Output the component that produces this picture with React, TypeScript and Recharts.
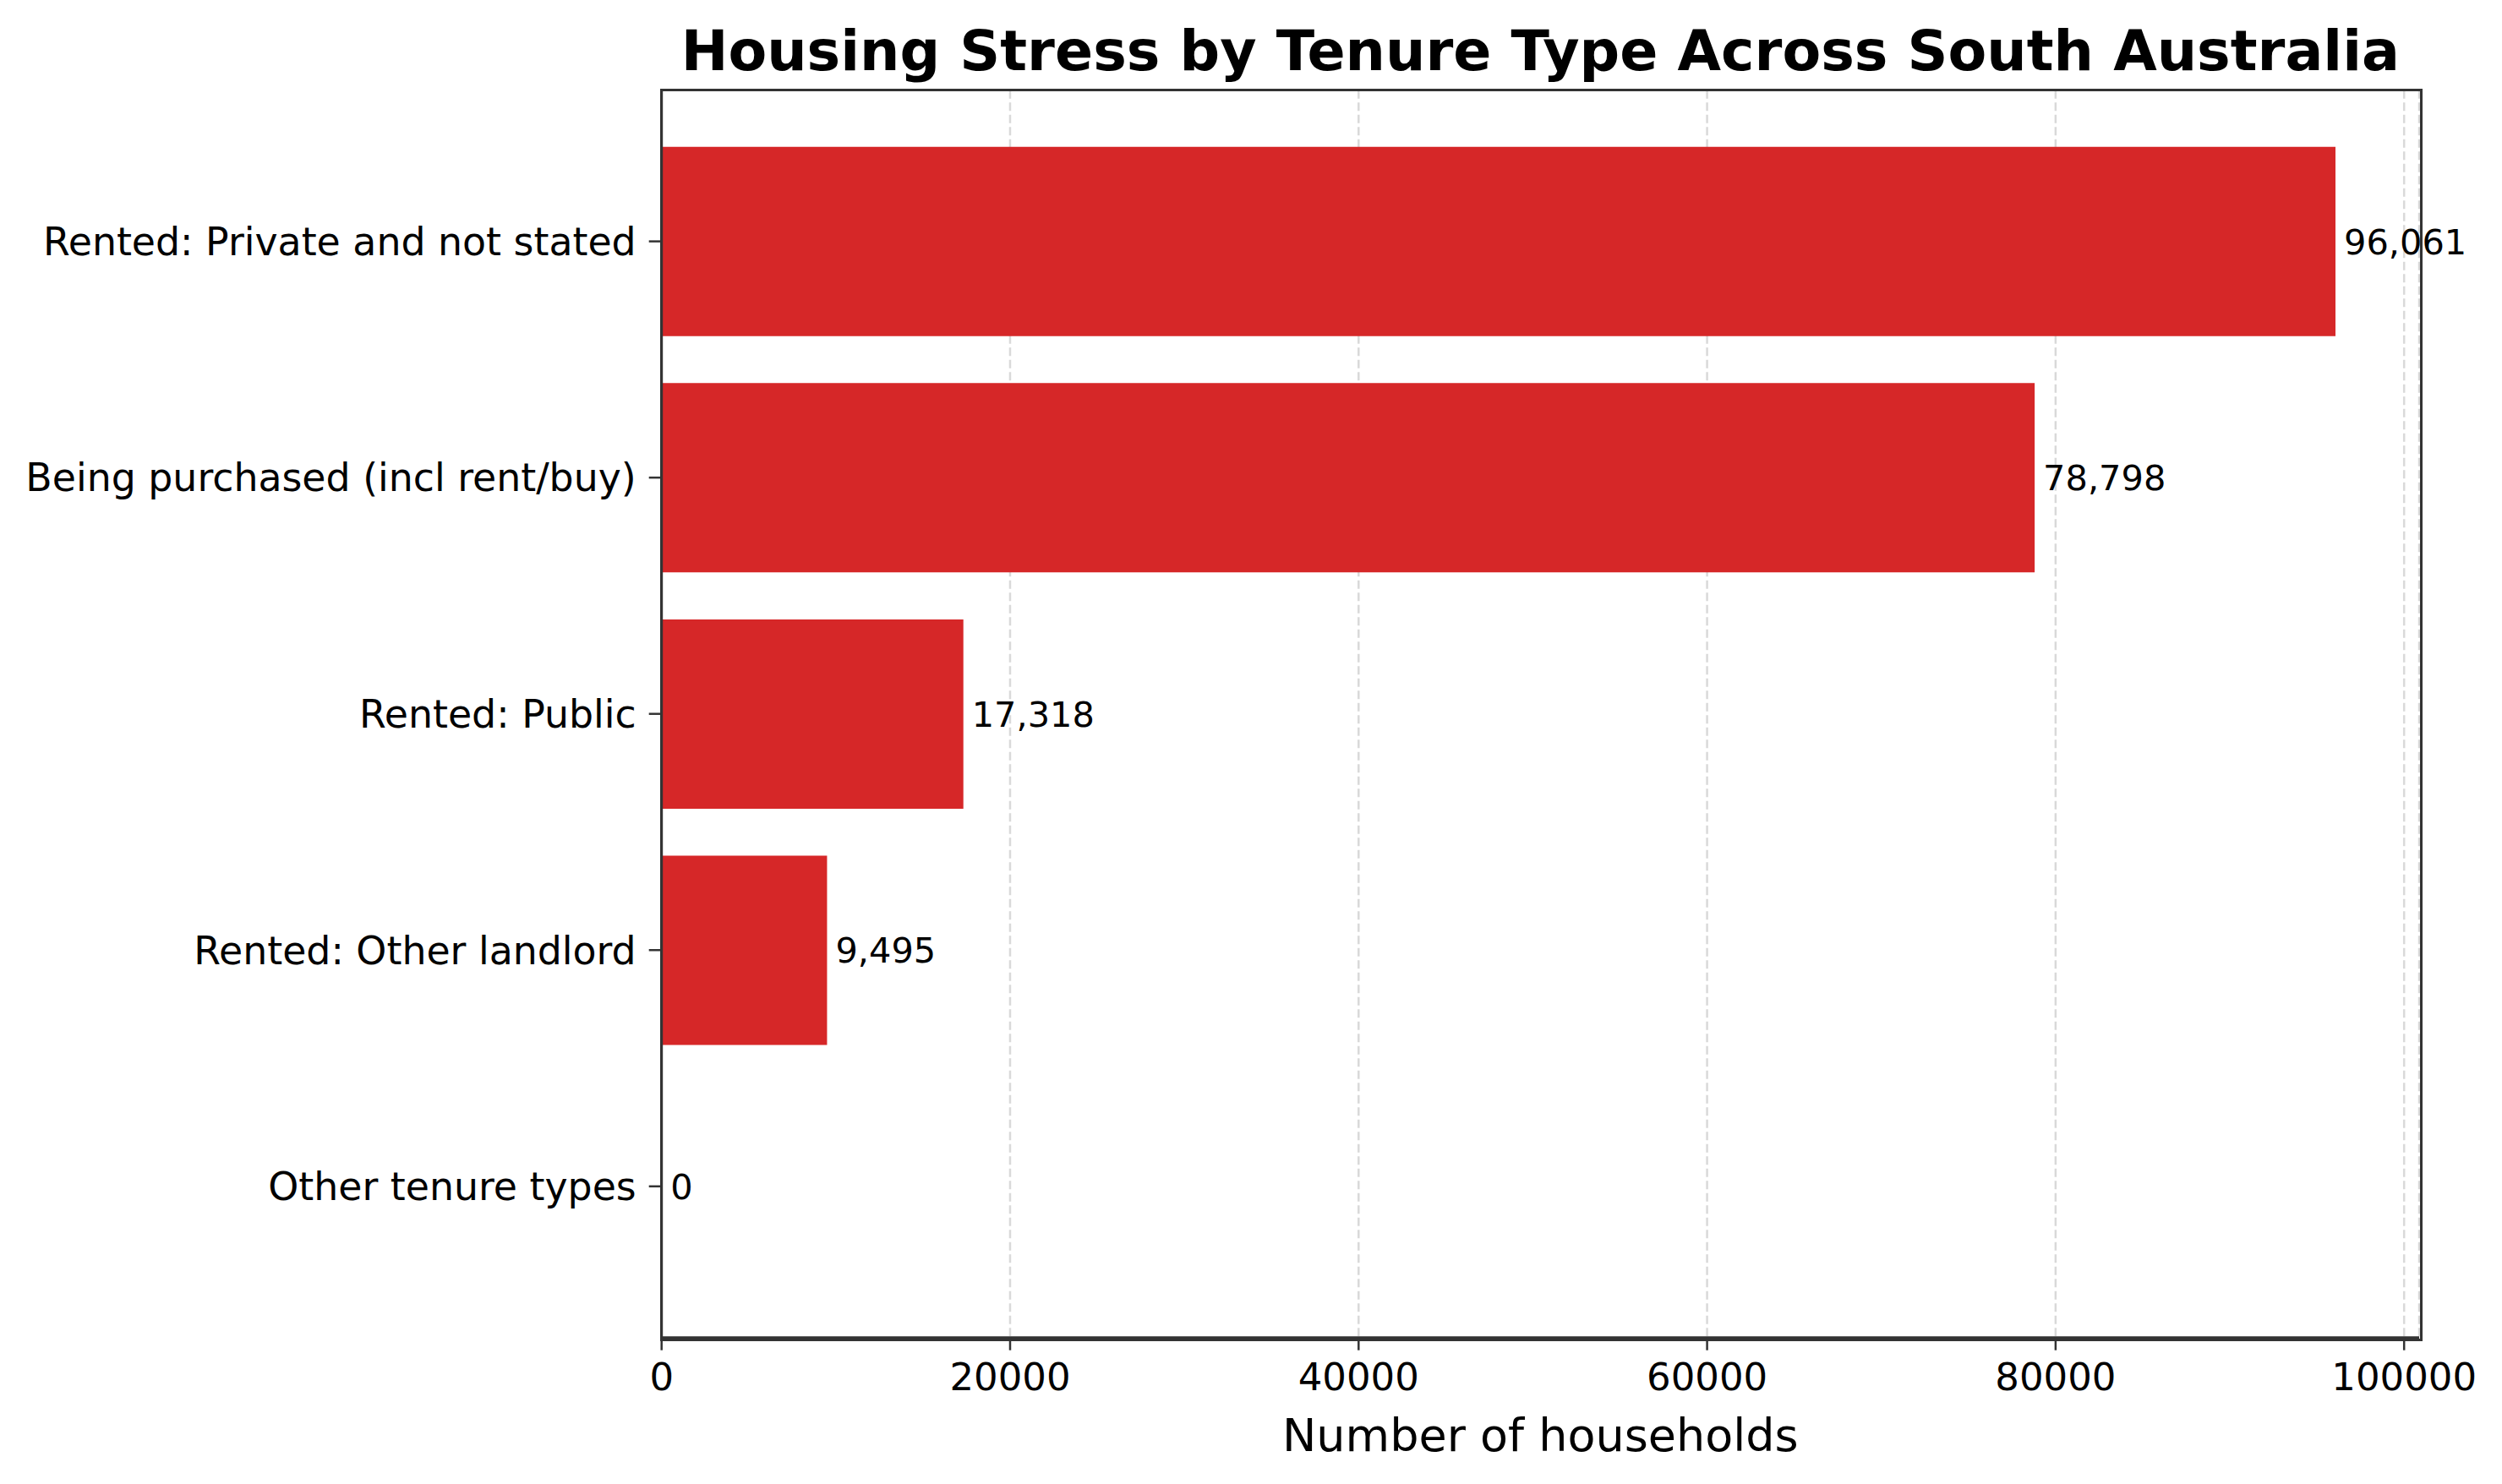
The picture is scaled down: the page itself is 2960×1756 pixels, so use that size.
import { BarChart, Bar, XAxis, YAxis, CartesianGrid, LabelList, Label } from 'recharts';

const CATEGORIES = [
  'Rented: Private and not stated',
  'Being purchased (incl rent/buy)',
  'Rented: Public',
  'Rented: Other landlord',
  'Other tenure types',
];
const HOUSEHOLDS = [96061, 78798, 17318, 9495, 0];
const X_TICKS = [0, 20000, 40000, 60000, 80000, 100000];
const X_MAX = 100864;

const SPINE = '#333333';
const BAR_RED = '#d62728';

// plot box, in page pixels
const PLOT = { left: 782.7, top: 106.7, right: 2862, bottom: 1582.7 };

export default function App() {
  const data = CATEGORIES.map((name, i) => ({ name, value: HOUSEHOLDS[i] }));
  const plotH = PLOT.bottom - PLOT.top;
  const pad = (plotH / 5.28) * 0.14;

  return (
    <div
      style={{
        position: 'absolute',
        left: 0,
        top: 0,
        width: 2960,
        height: 1756,
        fontFamily: '"DejaVu Sans", sans-serif',
        background: '#fff',
      }}
    >
      <div
        style={{
          position: 'absolute',
          left: PLOT.left,
          width: PLOT.right - PLOT.left,
          top: 26.5,
          fontSize: 66.6,
          lineHeight: '66.6px',
          fontWeight: 'bold',
          textAlign: 'center',
          color: '#000',
          whiteSpace: 'nowrap',
        }}
      >
        Housing Stress by Tenure Type Across South Australia
      </div>
      <BarChart
        width={2960}
        height={1756}
        data={data}
        layout="vertical"
        margin={{ top: PLOT.top, right: 2960 - PLOT.right, bottom: 0, left: 0 }}
        barCategoryGap="10%"
      >
        <CartesianGrid horizontal={false} stroke="#d9d9d9" strokeWidth={2.5} strokeDasharray="10 4.5" />
        <XAxis
          type="number"
          domain={[0, X_MAX]}
          ticks={X_TICKS}
          height={1756 - PLOT.bottom}
          tickSize={15}
          tickMargin={15}
          tick={{ fill: '#000', fontSize: 45 }}
          tickLine={{ stroke: SPINE, strokeWidth: 2.5 }}
          axisLine={{ stroke: SPINE, strokeWidth: 3 }}
        >
          <Label value="Number of households" position="insideBottom" offset={39} fill="#000" fontSize={54} />
        </XAxis>
        <YAxis
          type="category"
          dataKey="name"
          width={PLOT.left}
          padding={{ top: pad, bottom: pad }}
          tickSize={15}
          tickMargin={15}
          tick={{ fill: '#000', fontSize: 45.8 }}
          tickLine={{ stroke: SPINE, strokeWidth: 2.5 }}
          axisLine={{ stroke: SPINE, strokeWidth: 3 }}
        />
        <Bar dataKey="value" fill={BAR_RED} minPointSize={0.5} isAnimationActive={false}>
          <LabelList
            dataKey="value"
            position="right"
            offset={10}
            fill="#000"
            fontSize={41.5}
            formatter={(v: number) => v.toLocaleString('en-US')}
          />
        </Bar>
      </BarChart>
      <div
        style={{
          position: 'absolute',
          left: PLOT.left - 1.5,
          top: PLOT.top - 1.5,
          width: PLOT.right - PLOT.left,
          height: plotH,
          border: `3px solid ${SPINE}`,
          pointerEvents: 'none',
        }}
      />
    </div>
  );
}
